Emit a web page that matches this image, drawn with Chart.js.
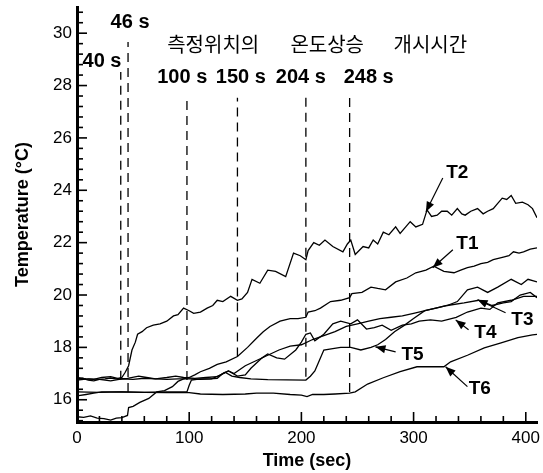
<!DOCTYPE html>
<html>
<head>
<meta charset="utf-8">
<script src="https://cdn.jsdelivr.net/npm/chart.js@4"></script>
<style>
html, body { margin: 0; padding: 0; background: #fff; }
#chart { display: block; }
</style>
</head>
<body>
<canvas id="chart" width="543" height="473"></canvas>
<script>
// temperature traces (time in s, temperature in C)
const t1Time = [0,6,12,18,24,30,35,40,45,46,50,56,64,71,78,85,90,95,100,105,110,118,125,133,143,152,160,166,172,181,190,197,204,206,212,217,226,235,243,245,254,262,268,275,284,294,302,311,318,327,336,342,348,354,360,366,371,380,385,389,394,398,404,410]
const t1Temp = [15.35,15.33,15.38,15.3,15.28,15.22,15.3,15.32,15.4,15.7,15.75,15.9,16.05,16.3,16.35,16.5,16.7,16.8,16.85,16.95,17.07,17.2,17.35,17.45,17.65,18.0,18.35,18.6,18.8,19.0,19.1,19.1,19.15,19.35,19.4,19.5,19.75,19.8,19.9,20.05,20.1,20.3,20.25,20.2,20.5,20.65,20.85,20.95,21.1,20.9,20.85,20.95,21.05,21.1,21.2,21.25,21.35,21.45,21.5,21.65,21.6,21.65,21.75,21.8]

const t2Time = [0,5,10,15,20,25,30,35,40,43,46,49,52,54,58,62,68,74,80,86,90,95,100,104,110,116,121,125,130,137,143,147,152,156,163,170,177,186,193,199,204,206,211,216,221,228,237,241,244,248,255,260,264,268,273,278,284,288,293,297,302,308,312,316,321,325,330,334,339,343,346,351,357,362,366,371,375,379,383,387,391,397,402,406,410]
const t2Temp = [16.8,16.82,16.75,16.72,16.78,16.8,16.83,16.8,16.85,17.05,17.3,17.9,18.2,18.5,18.6,18.75,18.85,18.9,19.0,19.2,19.25,19.5,19.4,19.3,19.35,19.5,19.6,19.8,19.75,19.95,19.8,19.85,20.1,20.6,20.45,20.95,20.9,20.7,21.6,21.5,21.35,21.7,22.0,21.9,22.1,21.85,21.65,21.95,22.1,21.55,21.85,21.8,22.1,21.95,22.4,22.3,22.6,22.35,22.6,22.8,22.6,22.7,23.25,23.0,23.05,23.2,23.2,23.05,23.3,23.1,23.05,23.2,23.3,23.1,23.2,23.3,23.5,23.7,23.65,23.8,23.5,23.55,23.45,23.3,22.95]

const t3Time = [0,8,15,22,40,60,80,98,100,102,110,118,125,130,135,140,150,160,170,180,190,200,210,220,230,240,250,260,270,280,290,300,315,330,345,358,370,380,387,395,404,410]
const t3Temp = [16.15,16.2,16.25,16.3,16.3,16.28,16.3,16.3,16.55,16.75,16.8,16.8,16.82,17.0,17.1,17.0,17.3,17.5,17.7,17.9,18.05,18.1,18.3,18.45,18.6,18.8,18.9,19.0,19.1,19.15,19.2,19.3,19.45,19.6,19.7,19.8,19.6,19.7,19.75,20.0,20.1,19.9]

const t4Time = [0,10,20,30,40,50,60,70,80,90,100,110,120,128,135,143,150,155,160,165,170,178,185,195,200,204,208,212,220,228,235,244,250,258,265,272,280,290,298,305,315,325,338,348,360,368,375,387,398,410]
const t4Temp = [16.75,16.8,16.78,16.72,16.8,16.78,16.82,16.8,16.78,16.8,16.8,16.78,16.8,16.95,17.1,16.9,16.95,17.2,17.4,17.6,17.75,17.6,17.55,17.9,18.2,18.5,18.55,18.25,18.5,18.9,19.0,18.9,19.05,18.7,18.75,18.85,18.65,18.85,18.9,19.0,19.05,19.0,19.15,19.35,19.5,19.45,19.7,19.8,19.95,19.95]

const t5Time = [0,8,15,22,30,38,45,55,62,70,80,88,95,105,115,125,132,138,145,155,170,187,204,208,212,216,220,228,235,244,253,262,268,275,283,292,300,310,320,330,339,348,357,366,375,387,396,402,410]
const t5Temp = [16.85,16.8,16.78,16.85,16.88,16.8,16.82,16.9,16.85,16.8,16.85,16.9,16.85,16.82,16.85,16.88,17.05,16.9,16.85,16.8,16.77,16.76,16.75,16.9,17.1,17.5,17.9,17.95,18.0,18.0,17.9,18.0,18.1,18.3,18.6,18.85,19.1,19.4,19.5,19.6,19.75,20.2,20.3,20.1,20.3,20.6,20.4,20.6,20.5]

const t6Time = [0,20,40,60,80,100,110,130,150,160,175,190,200,205,210,220,230,243,248,259,273,288,303,318,327,333,348,363,378,393,406,410]
const t6Temp = [16.3,16.28,16.3,16.28,16.27,16.27,16.22,16.2,16.22,16.25,16.25,16.2,16.18,16.12,16.2,16.2,16.22,16.25,16.3,16.6,16.84,17.07,17.26,17.26,17.26,17.45,17.7,17.98,18.17,18.37,18.48,18.5]

// onset markers (dashed verticals)
const onsetTime = [39, 45.5, 98, 143, 204, 243]
const onsetLow = [16.76, 16.3, 16.75, 17.65, 16.88, 16.3]
const onsetHigh = [28.52, 29.66, 27.56, 27.53, 27.53, 27.64]
const onsetLabels = ['40 s', '46 s', '100 s', '150 s', '204 s', '248 s']

const xTicks = [0, 100, 200, 300, 400]
const yTicks = [16, 18, 20, 22, 24, 26, 28, 30]

// text placement, in data units
const onsetLabelPos = [[22.3, 28.9], [47.3, 30.39], [93.8, 28.29], [146, 28.29], [199.5, 28.29], [260, 28.29]]
const titleWords = ['측정위치의', '온도상승', '개시시간']
const titleWordPos = [[80.4, 29.59], [190.2, 29.59], [282.1, 29.59]]
const seriesNames = ['T1', 'T2', 'T3', 'T4', 'T5', 'T6']
// [label x, label y, arrow tail x, tail y, head x, head y]
const seriesCallouts = [
    [348, 21.95, 335, 21.73, 317, 21.04],
    [339, 24.66, 326, 24.47, 311, 23.18],
    [397, 19.05, 382, 19.32, 357, 19.82],
    [364, 18.56, 349, 18.67, 337.5, 19.05],
    [299, 17.72, 284, 17.83, 266, 18.02],
    [359, 16.42, 348, 16.5, 328.5, 17.26]
]

function pairs(xs, ys) {
    const out = []
    for (let i = 0; i < Math.min(xs.length, ys.length); i++) out.push({x: xs[i], y: ys[i]})
    return out
}

const traces = [
    [t1Time, t1Temp], [t2Time, t2Temp], [t3Time, t3Temp],
    [t4Time, t4Temp], [t5Time, t5Temp], [t6Time, t6Temp]
]

const datasets = traces.map((tr, i) => ({
    label: seriesNames[i],
    data: pairs(tr[0], tr[1]),
    borderColor: '#000',
    borderWidth: 1.3,
    pointRadius: 0,
    tension: 0
}))

onsetTime.forEach((t, i) => {
    datasets.push({
        label: onsetLabels[i],
        data: [{x: t, y: onsetLow[i]}, {x: t, y: onsetHigh[i]}],
        borderColor: '#000',
        borderWidth: 1.3,
        borderDash: [9, 6],
        pointRadius: 0
    })
})

/* inward tick marks + text callouts */
const decorations = {
    id: 'decorations',
    afterDraw(chart) {
        const {ctx, scales: {x, y}} = chart
        const left = x.left, bottom = y.bottom
        ctx.save()
        ctx.strokeStyle = '#000'
        ctx.fillStyle = '#000'
        ctx.lineWidth = 1.6
        for (let i = 38; i <= 77; i++) {
            const py = y.getPixelForValue(i * 0.4)
            const len = i % 5 === 0 ? 10 : 6
            ctx.beginPath(); ctx.moveTo(left, py); ctx.lineTo(left + len, py); ctx.stroke()
        }
        for (let i = 1; i <= 20; i++) {
            const px = x.getPixelForValue(i * 20)
            const len = i % 5 === 0 ? 10 : 6
            ctx.beginPath(); ctx.moveTo(px, bottom); ctx.lineTo(px, bottom - len); ctx.stroke()
        }

        ctx.textBaseline = 'middle'
        ctx.textAlign = 'center'
        ctx.font = 'bold 20px "Liberation Sans", Arial, sans-serif'
        onsetLabels.forEach((txt, i) => {
            ctx.fillText(txt, x.getPixelForValue(onsetLabelPos[i][0]), y.getPixelForValue(onsetLabelPos[i][1]))
        })

        ctx.textAlign = 'left'
        ctx.font = '20px "Noto Sans CJK KR", sans-serif'
        titleWords.forEach((w, i) => {
            ctx.fillText(w, x.getPixelForValue(titleWordPos[i][0]), y.getPixelForValue(titleWordPos[i][1]))
        })

        ctx.textAlign = 'center'
        ctx.font = 'bold 19px "Liberation Sans", Arial, sans-serif'
        ctx.lineWidth = 1.2
        seriesCallouts.forEach((c, i) => {
            ctx.fillText(seriesNames[i], x.getPixelForValue(c[0]), y.getPixelForValue(c[1]))
            const x0 = x.getPixelForValue(c[2]), y0 = y.getPixelForValue(c[3])
            const x1 = x.getPixelForValue(c[4]), y1 = y.getPixelForValue(c[5])
            const ang = Math.atan2(y1 - y0, x1 - x0)
            ctx.beginPath(); ctx.moveTo(x0, y0); ctx.lineTo(x1, y1); ctx.stroke()
            ctx.beginPath()
            ctx.moveTo(x1, y1)
            ctx.lineTo(x1 - 10 * Math.cos(ang) + 4 * Math.sin(ang), y1 - 10 * Math.sin(ang) - 4 * Math.cos(ang))
            ctx.lineTo(x1 - 10 * Math.cos(ang) - 4 * Math.sin(ang), y1 - 10 * Math.sin(ang) + 4 * Math.cos(ang))
            ctx.closePath()
            ctx.fill()
        })
        ctx.restore()
    }
}

const tickFont = {family: '"Liberation Sans", Arial, sans-serif', size: 17}
const titleFont = {family: '"Liberation Sans", Arial, sans-serif', size: 18, weight: 'bold'}

new Chart(document.getElementById('chart'), {
    type: 'line',
    data: {datasets},
    plugins: [decorations],
    options: {
        responsive: false,
        animation: false,
        layout: {padding: {left: 0, top: 7, right: 6, bottom: 0}},
        plugins: {legend: {display: false}, tooltip: {enabled: false}},
        scales: {
            x: {
                type: 'linear',
                min: 0,
                max: 410,
                afterBuildTicks: s => { s.ticks = xTicks.map(v => ({value: v})) },
                afterFit: s => { s.height = 51; s.paddingLeft = 0; s.paddingRight = 0 },
                ticks: {font: tickFont, color: '#000', padding: 6, maxRotation: 0},
                grid: {display: false, drawTicks: false},
                border: {display: true, width: 3, color: '#000'},
                title: {display: true, text: 'Time (sec)', font: titleFont, color: '#000', padding: {top: 0, bottom: 1}}
            },
            y: {
                type: 'linear',
                min: 15.15,
                max: 31,
                afterBuildTicks: s => { s.ticks = yTicks.map(v => ({value: v})) },
                afterFit: s => { s.width = 77; s.paddingTop = 0; s.paddingBottom = 0 },
                ticks: {font: tickFont, color: '#000', padding: 5},
                grid: {display: false, drawTicks: false},
                border: {display: true, width: 3, color: '#000'},
                title: {display: true, text: 'Temperature (°C)', font: titleFont, color: '#000', padding: {top: 12, bottom: 0}}
            }
        }
    }
})
</script>
</body>
</html>
